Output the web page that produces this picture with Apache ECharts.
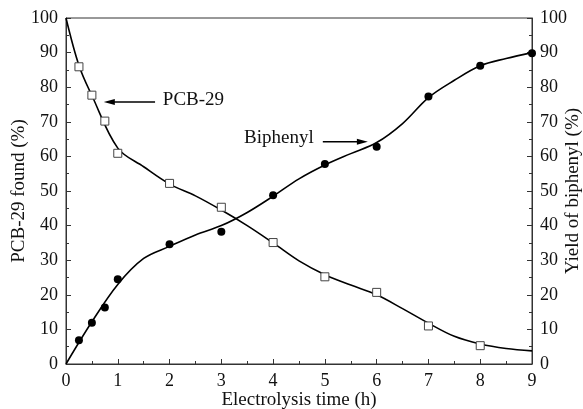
<!DOCTYPE html>
<html>
<head>
<meta charset="utf-8">
<script src="https://cdn.jsdelivr.net/npm/echarts@6/dist/echarts.min.js"></script>
<style>
  html, body { margin: 0; padding: 0; background: #fff; }
  #chart { width: 583px; height: 409px; }
</style>
</head>
<body>
<div id="chart"></div>
<script>
// fitted curves
const pcbCurveX = [0, 0.25, 0.5, 1, 1.5, 2, 2.5, 3, 3.5, 4, 4.5, 5, 5.5, 6, 6.5, 7, 7.5, 8, 8.5, 9]
const pcbCurve = [100, 86.3, 77.6, 62.4, 57, 52, 48.6, 44.5, 40, 35, 29.8, 25.8, 22.8, 20, 16, 11.8, 8, 5.8, 4.5, 3.8]
const biphenylCurveX = [0, 0.5, 1, 1.5, 2, 2.5, 3, 3.5, 4, 4.5, 5, 5.5, 6, 6.5, 7, 7.5, 8, 8.5, 9]
const biphenylCurve = [0, 12.2, 23, 30.5, 34, 37.3, 40, 43.8, 48.5, 53.5, 57.5, 60.8, 64, 69.5, 77, 82, 86.2, 88.3, 90]

// measured points
const pcbX = [0.25, 0.5, 0.75, 1, 2, 3, 4, 5, 6, 7, 8]
const pcbY = [85.9, 77.7, 70.2, 60.9, 52.2, 45.3, 35.1, 25.2, 20.7, 11, 5.3]
const biphenylX = [0.25, 0.5, 0.75, 1, 2, 3, 4, 5, 6, 7, 8, 9]
const biphenylY = [6.9, 11.9, 16.3, 24.5, 34.6, 38.2, 48.8, 57.8, 62.8, 77.3, 86.2, 89.8]

const zip = (xs, ys) => xs.map((x, i) => [x, ys[i]])

const font = 'Liberation Serif'
const axisColor = '#333'

const chart = echarts.init(document.getElementById('chart'))

const yAxisBase = {
  type: 'value',
  min: 0,
  max: 100,
  interval: 10,
  nameLocation: 'middle',
  nameRotate: 90,
  nameMoveOverlap: false,
  nameTextStyle: { fontFamily: font, fontSize: 19, color: '#111' },
  axisLine: { show: true, lineStyle: { color: axisColor, width: 1 } },
  axisTick: { show: true, inside: true, length: 5, lineStyle: { color: axisColor } },
  minorTick: { show: true, splitNumber: 2, length: 3, lineStyle: { color: axisColor } },
  axisLabel: { fontFamily: font, fontSize: 18, color: '#111', margin: 8 },
  splitLine: { show: false }
}

chart.setOption({
  animation: false,
  backgroundColor: '#fff',
  grid: {
    left: 66, right: 51, top: 18, bottom: 45,
    outerBoundsMode: 'none',
    containLabel: false,
    show: true, borderColor: axisColor, borderWidth: 1
  },
  xAxis: {
    type: 'value',
    min: 0,
    max: 9,
    interval: 1,
    name: 'Electrolysis time (h)',
    nameLocation: 'middle',
    nameGap: 27,
    nameMoveOverlap: false,
    nameTextStyle: { fontFamily: font, fontSize: 19, color: '#111' },
    axisLine: { show: true, onZero: false, lineStyle: { color: axisColor, width: 1 } },
    axisTick: { show: true, inside: true, length: 5, lineStyle: { color: axisColor } },
    minorTick: { show: true, splitNumber: 2, length: 3, lineStyle: { color: axisColor } },
    axisLabel: { fontFamily: font, fontSize: 18, color: '#111', margin: 8 },
    splitLine: { show: false }
  },
  yAxis: [
    Object.assign({}, yAxisBase, { position: 'left', name: 'PCB-29 found (%)', nameGap: 37 }),
    Object.assign({}, yAxisBase, { position: 'right', name: 'Yield of biphenyl (%)', nameGap: 32 })
  ],
  series: [
    {
      type: 'line',
      data: zip(pcbCurveX, pcbCurve),
      smooth: 0.35,
      showSymbol: false,
      lineStyle: { color: '#000', width: 1.6 },
      z: 2
    },
    {
      type: 'line',
      yAxisIndex: 1,
      data: zip(biphenylCurveX, biphenylCurve),
      smooth: 0.35,
      showSymbol: false,
      lineStyle: { color: '#000', width: 1.6 },
      z: 2
    },
    {
      type: 'scatter',
      data: zip(pcbX, pcbY),
      symbol: 'rect',
      symbolSize: 8,
      itemStyle: { color: '#fff', borderColor: '#444', borderWidth: 1, opacity: 1 },
      z: 3
    },
    {
      type: 'scatter',
      yAxisIndex: 1,
      data: zip(biphenylX, biphenylY),
      symbol: 'circle',
      symbolSize: 8,
      itemStyle: { color: '#000', opacity: 1 },
      z: 3
    }
  ]
})

// annotations (data coordinates)
const labels = [
  { text: 'PCB-29', at: [1.87, 76.3] },
  { text: 'Biphenyl', at: [3.44, 65.3] }
]
const arrows = [
  { from: [1.72, 75.7], to: [0.73, 75.7] },
  { from: [4.96, 64.2], to: [5.83, 64.2] }
]

const px = p => chart.convertToPixel({ gridIndex: 0 }, p)
const graphics = []
labels.forEach(l => {
  const p = px(l.at)
  graphics.push({
    type: 'text',
    x: p[0],
    y: p[1],
    style: { text: l.text, font: '19px "' + font + '"', fill: '#111', textVerticalAlign: 'middle' }
  })
})
arrows.forEach(a => {
  const p1 = px(a.from)
  const p2 = px(a.to)
  const dir = Math.sign(p2[0] - p1[0])
  const headLen = 11
  graphics.push({
    type: 'line',
    shape: { x1: p1[0], y1: p1[1], x2: p2[0] - dir * headLen * 0.8, y2: p2[1] },
    style: { stroke: '#000', lineWidth: 1.5 }
  })
  graphics.push({
    type: 'polygon',
    shape: { points: [[p2[0], p2[1]], [p2[0] - dir * headLen, p2[1] - 3], [p2[0] - dir * headLen, p2[1] + 3]] },
    style: { fill: '#000' }
  })
})
chart.setOption({ graphic: graphics })
</script>
</body>
</html>
